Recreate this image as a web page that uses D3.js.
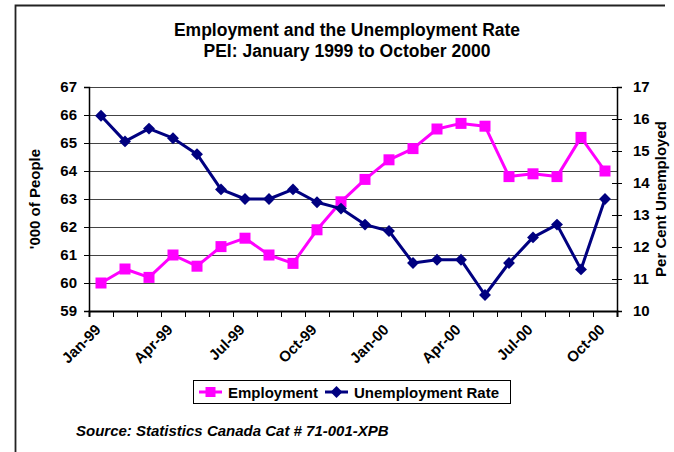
<!DOCTYPE html>
<html>
<head>
<meta charset="utf-8">
<script src="https://cdn.jsdelivr.net/npm/d3@7"></script>
<style>
  html, body { margin: 0; padding: 0; background: #fff; }
  svg { display: block; font-family: "Liberation Sans", Arial, sans-serif; }
  .axis text { font-size: 15px; font-weight: bold; fill: #000; }
  .axis path, .axis line { stroke: #000; }
</style>
</head>
<body>
<svg id="chart" width="674" height="452"></svg>
<script>
// Monthly categories, January 1999 to October 2000
const months = ["Jan-99","Feb-99","Mar-99","Apr-99","May-99","Jun-99","Jul-99","Aug-99","Sep-99","Oct-99","Nov-99","Dec-99",
                "Jan-00","Feb-00","Mar-00","Apr-00","May-00","Jun-00","Jul-00","Aug-00","Sep-00","Oct-00"];
// Months that carry a label on the category axis
const monthLabels = ["Jan-99","Apr-99","Jul-99","Oct-99","Jan-00","Apr-00","Jul-00","Oct-00"];
// Employment, thousands of people (left axis)
const employment = [60.0, 60.5, 60.2, 61.0, 60.6, 61.3, 61.6, 61.0, 60.7, 61.9, 62.9, 63.7,
                    64.4, 64.8, 65.5, 65.7, 65.6, 63.8, 63.9, 63.8, 65.2, 64.0];
// Unemployment rate, per cent (right axis)
const unemployment = [16.1, 15.3, 15.7, 15.4, 14.9, 13.8, 13.5, 13.5, 13.8, 13.4, 13.2, 12.7,
                      12.5, 11.5, 11.6, 11.6, 10.5, 11.5, 12.3, 12.7, 11.3, 13.5];
const leftTicks = [59, 60, 61, 62, 63, 64, 65, 66, 67];
const rightTicks = [10, 11, 12, 13, 14, 15, 16, 17];

const pink = "#FF00FF", navy = "#000080";
const svg = d3.select("#chart");

const plot = { left: 89, right: 617, top: 87, bottom: 311 };

const x = d3.scaleBand().domain(months).range([plot.left, plot.right]).padding(0);
const xc = m => x(m) + x.bandwidth() / 2;
const xb = d3.scaleLinear().domain([0, months.length]).range([plot.left, plot.right]);
const yL = d3.scaleLinear().domain([59, 67]).range([plot.bottom, plot.top]);
const yR = d3.scaleLinear().domain([10, 17]).range([plot.bottom, plot.top]);

// Frame around the chart (top and left edges)
svg.append("path")
  .attr("d", "M15.5,452 V5.5 H665")
  .attr("fill", "none").attr("stroke", "#222").attr("stroke-width", 1.8);

// Title
const title = svg.append("text").attr("text-anchor", "middle")
  .attr("font-size", 17.5).attr("font-weight", "bold");
title.append("tspan").attr("x", 347).attr("y", 36).text("Employment and the Unemployment Rate");
title.append("tspan").attr("x", 347).attr("y", 57).text("PEI: January 1999 to October 2000");

// Horizontal gridlines on the left scale
svg.append("g").selectAll("line").data(leftTicks.slice(1)).join("line")
  .attr("x1", plot.left).attr("x2", plot.right)
  .attr("y1", d => Math.round(yL(d)) + 0.5).attr("y2", d => Math.round(yL(d)) + 0.5)
  .attr("stroke", "#444").attr("stroke-width", 1);

// Left axis
const gL = svg.append("g").attr("class", "axis").attr("transform", `translate(${plot.left},0)`)
  .call(d3.axisLeft(yL).tickValues(leftTicks).tickSize(5).tickPadding(7).tickFormat(d3.format("d")));
gL.select(".domain").attr("stroke-width", 1.5);

// Right axis (ticks cross the axis line)
const gR = svg.append("g").attr("class", "axis").attr("transform", `translate(${plot.right},0)`)
  .call(d3.axisRight(yR).tickValues(rightTicks).tickSize(5).tickPadding(11).tickFormat(d3.format("d")));
gR.selectAll(".tick line").attr("x1", -5);
gR.select(".domain").attr("stroke-width", 1.5);

// Category axis: ticks at month boundaries
const gB = svg.append("g").attr("class", "axis").attr("transform", `translate(0,${plot.bottom})`)
  .call(d3.axisBottom(xb).tickValues(d3.range(0, months.length + 1)).tickSize(6).tickFormat(""));
gB.select(".domain").attr("stroke-width", 2);

// Rotated month labels
svg.append("g").selectAll("text").data(monthLabels).join("text")
  .attr("transform", m => `translate(${xc(m) - 3},${plot.bottom + 16}) rotate(-45)`)
  .attr("text-anchor", "end").attr("dy", "0.35em")
  .attr("font-size", 15).attr("font-weight", "bold")
  .text(m => m);

// Axis titles
svg.append("text")
  .attr("transform", `translate(40,${(plot.top + plot.bottom) / 2}) rotate(-90)`)
  .attr("text-anchor", "middle").attr("font-size", 15).attr("font-weight", "bold")
  .text("'000 of People");
svg.append("text")
  .attr("transform", `translate(666,${(plot.top + plot.bottom) / 2}) rotate(-90)`)
  .attr("text-anchor", "middle").attr("font-size", 15).attr("font-weight", "bold")
  .text("Per Cent Unemployed");

// Series lines
const lineL = d3.line().x((d, i) => xc(months[i])).y(d => yL(d));
const lineR = d3.line().x((d, i) => xc(months[i])).y(d => yR(d));

svg.append("path").datum(employment).attr("d", lineL)
  .attr("fill", "none").attr("stroke", pink).attr("stroke-width", 3).attr("stroke-linejoin", "round");
svg.append("g").selectAll("rect").data(employment).join("rect")
  .attr("x", (d, i) => xc(months[i]) - 5.5).attr("y", d => yL(d) - 5.5)
  .attr("width", 11).attr("height", 11).attr("fill", pink);

svg.append("path").datum(unemployment).attr("d", lineR)
  .attr("fill", "none").attr("stroke", navy).attr("stroke-width", 3).attr("stroke-linejoin", "round");
const diamond = d3.symbol().type(d3.symbolDiamond2).size(90);
svg.append("g").selectAll("path").data(unemployment).join("path")
  .attr("transform", (d, i) => `translate(${xc(months[i])},${yR(d)})`)
  .attr("d", diamond).attr("fill", navy);

// Legend
const lg = svg.append("g");
lg.append("rect").attr("x", 193.5).attr("y", 380.5).attr("width", 317).attr("height", 23)
  .attr("fill", "#fff").attr("stroke", "#000").attr("stroke-width", 1);
const legendItems = [
  { name: "Employment", color: pink, x: 199, marker: "square" },
  { name: "Unemployment Rate", color: navy, x: 325, marker: "diamond" }
];
legendItems.forEach(it => {
  const cy = 392;
  lg.append("line").attr("x1", it.x).attr("x2", it.x + 23).attr("y1", cy).attr("y2", cy)
    .attr("stroke", it.color).attr("stroke-width", 3);
  if (it.marker === "square") {
    lg.append("rect").attr("x", it.x + 11.5 - 5).attr("y", cy - 5).attr("width", 10).attr("height", 10).attr("fill", it.color);
  } else {
    lg.append("path").attr("transform", `translate(${it.x + 11.5},${cy})`).attr("d", diamond).attr("fill", it.color);
  }
  lg.append("text").attr("x", it.x + 29).attr("y", cy + 5.5)
    .attr("font-size", 15).attr("font-weight", "bold").text(it.name);
});

// Source note
svg.append("text").attr("x", 76).attr("y", 436)
  .attr("font-size", 15).attr("font-weight", "bold").attr("font-style", "italic")
  .text("Source: Statistics Canada Cat # 71-001-XPB");
</script>
</body>
</html>
